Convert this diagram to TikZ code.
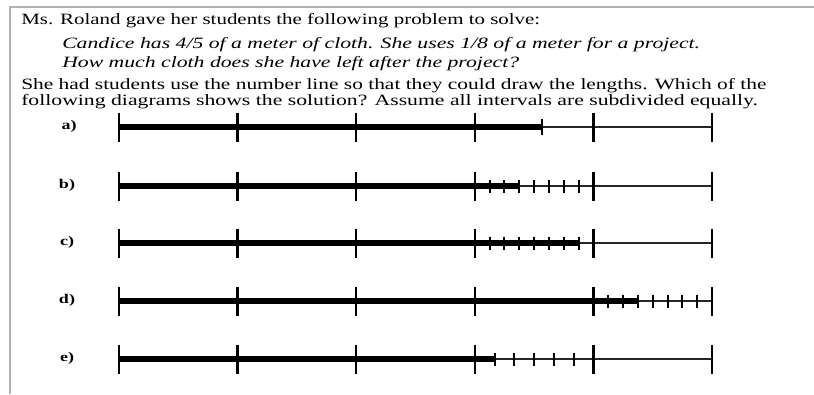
\documentclass[tikz,border=0pt]{standalone}
\usepackage{fontspec}
\usepackage{graphicx}
\setmainfont{Liberation Serif}
\newcommand{\stretchtxt}[2]{\scalebox{#1}[1]{#2}}
\begin{document}
\begin{tikzpicture}[x=0.75pt,y=-0.75pt,
  txt/.style={inner sep=0, anchor=base west, font=\fontsize{11.8}{13}\selectfont},
  lbl/.style={inner sep=0, font=\fontsize{10}{11}\selectfont\bfseries},
  thinln/.style={line width=1.2pt, draw=black!85},
  thickln/.style={line width=4.2pt},
  bigtick/.style={line width=1.7pt},
  smalltick/.style={line width=1.5pt},
  frame/.style={draw=black!30, line width=1.5pt}]
\useasboundingbox (0,0) rectangle (814,394);
\draw[frame] (10,394) -- (10,7) -- (814,7);
\node[txt] (t1) at (21,24) {\stretchtxt{1.33}{Ms. Roland gave her students the following problem to solve:}};
\node[txt] (t2) at (62,48.5) {\stretchtxt{1.38}{\itshape Candice has 4/5 of a meter of cloth. She uses 1/8 of a meter for a project.}};
\node[txt] (t3) at (62,67) {\stretchtxt{1.38}{\itshape How much cloth does she have left after the project?}};
\node[txt] (t4) at (21,89) {\stretchtxt{1.36}{She had students use the number line so that they could draw the lengths. Which of the}};
\node[txt] (t5) at (21,105) {\stretchtxt{1.38}{following diagrams shows the solution? Assume all intervals are subdivided equally.}};
\node[lbl] (la) at (69,126) {\stretchtxt{1.35}{a)}};
\node[lbl] (lb) at (67,185) {\stretchtxt{1.35}{b)}};
\node[lbl] (lc) at (67,242) {\stretchtxt{1.35}{c)}};
\node[lbl] (ld) at (67,300) {\stretchtxt{1.35}{d)}};
\node[lbl] (le) at (67,358) {\stretchtxt{1.35}{e)}};
% common lines
\foreach \yy/\nm in {127/a,186/b,243/c,301/d,359/e} {
  \coordinate (\nm0) at (119,\yy);
  \coordinate (\nm5) at (712,\yy);
  \draw[thinln] (\nm0) -- (\nm5);
}
% thick parts
\coordinate (aend) at (542,127);
\coordinate (bend) at (519.3,186);
\coordinate (cend) at (578.6,243);
\coordinate (dend) at (637.9,301);
\coordinate (eend) at (494.6,359);
\draw[thickln] (a0) -- (aend);
\draw[thickln] (b0) -- (bend);
\draw[thickln] (c0) -- (cend);
\draw[thickln] (d0) -- (dend);
\draw[thickln] (e0) -- (eend);
% big ticks
\foreach \yy in {127,186,243,301,359} {
  \foreach \k in {0,...,5}
    \draw[bigtick] (119+118.6*\k,\yy-14.5) -- ++(0,29);
}
% small ticks
\draw[smalltick] ([yshift=-6pt]aend) -- ([yshift=6pt]aend);
\foreach \j in {1,...,7} {
  \draw[smalltick] (474.8+14.825*\j,186-6.5) -- ++(0,13);
  \draw[smalltick] (474.8+14.825*\j,243-6.5) -- ++(0,13);
  \draw[smalltick] (593.4+14.825*\j,301-6.5) -- ++(0,13);
}
\foreach \j in {1,...,5}
  \draw[smalltick] (474.8+19.77*\j,359-6.5) -- ++(0,13);
\end{tikzpicture}
\end{document}
